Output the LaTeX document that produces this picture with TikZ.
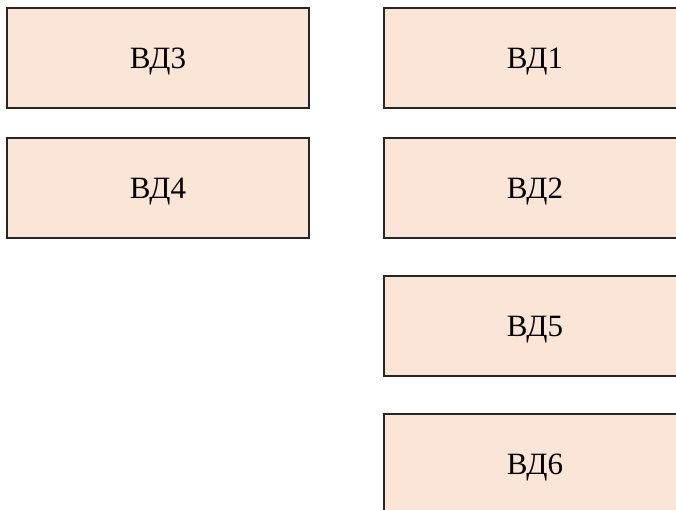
\documentclass[tikz,border=0pt]{standalone}
\usepackage{fontspec}
\setmainfont{Liberation Serif}
\usetikzlibrary{positioning}
\definecolor{peach}{HTML}{FBE5D6}
\tikzset{vdbox/.style={draw=black!85,line width=1.2pt,fill=peach,minimum width=302pt,minimum height=100pt,inner sep=0pt,text depth=0pt,font=\fontsize{31}{37}\selectfont}}

\begin{document}
\begin{tikzpicture}[x=1pt,y=-1pt]

\useasboundingbox (0,0) rectangle (676,509);
\clip (0,0) rectangle (676,509);

% left column
\node[vdbox] (vd3) at (158,58) {ВД3};
\node[vdbox] (vd4) at (158,188) {ВД4};

% right column
\node[vdbox] (vd1) at (535,58) {ВД1};
\node[vdbox] (vd2) at (535,188) {ВД2};
\node[vdbox] (vd5) at (535,326) {ВД5};
\node[vdbox] (vd6) at (535,464) {ВД6};

\end{tikzpicture}
\end{document}
